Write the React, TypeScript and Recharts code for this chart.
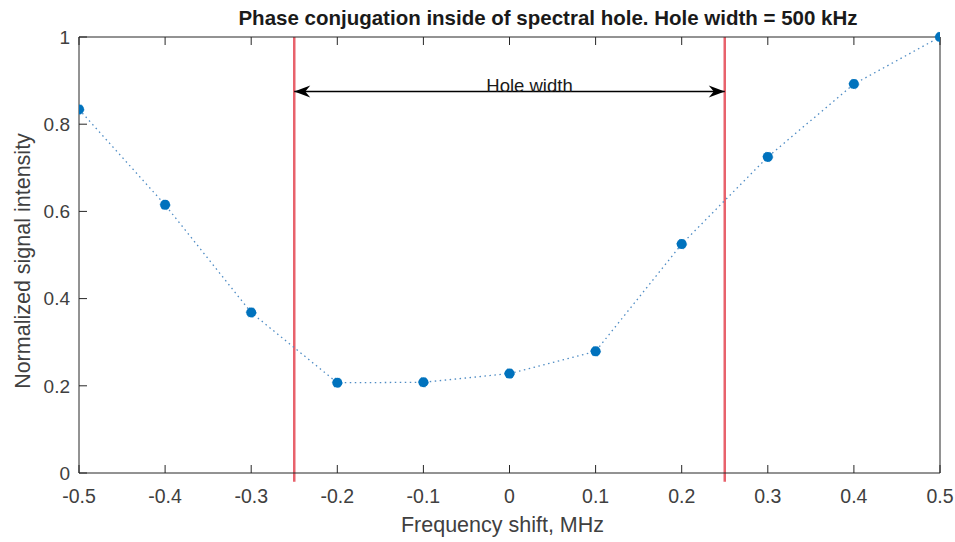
import { Line, LineChart, ReferenceLine, XAxis, YAxis } from 'recharts';

// Frequency shift (MHz) and the normalized signal measured at each step
const shiftMHz = [-0.5, -0.4, -0.3, -0.2, -0.1, 0, 0.1, 0.2, 0.3, 0.4, 0.5];
const intensity = [0.834, 0.615, 0.368, 0.207, 0.208, 0.228, 0.279, 0.525, 0.725, 0.892, 1.0];

const xTicks = [-0.5, -0.4, -0.3, -0.2, -0.1, 0, 0.1, 0.2, 0.3, 0.4, 0.5];
const yTicks = [0, 0.2, 0.4, 0.6, 0.8, 1];

// Edges of the spectral hole and the height of the width arrow
const holeEdges = [-0.25, 0.25];
const arrowLevel = 0.875;

const rows = shiftMHz.map((x, i) => ({ x, y: intensity[i] }));

const FONT = '"Liberation Sans", Arial, Helvetica, sans-serif';
const AXIS = '#262626';
const TEXT = '#404040';
const BLUE = '#0072bd';

const fmt = (v: number) => (v === 0 ? '0' : String(v));

const noTick = () => <g />;

function WidthArrow(props: any) {
    const { x1, y1, x2, y2 } = props;
    if (x1 == null || x2 == null) return null;
    const len = 16;
    const half = 6;
    const notch = 5;
    const head = (tip: number, dir: number) => {
        const back = tip + dir * len;
        return `M${tip},${y1} L${back},${y1 - half} L${back - dir * notch},${y1} L${back},${y1 + half} Z`;
    };
    return (
        <g>
            <line x1={x1} y1={y1} x2={x2} y2={y2} stroke="#000" strokeWidth={1.5} />
            <path d={head(x1, 1)} fill="#000" />
            <path d={head(x2, -1)} fill="#000" />
            <text
                x={(x1 + x2) / 2 + 20}
                y={y1}
                textAnchor="middle"
                fontFamily={FONT}
                fontSize={18.5}
                fill="#1a1a1a"
            >
                Hole width
            </text>
        </g>
    );
}

export default function App() {
    return (
        <div style={{ position: 'absolute', left: 0, top: 0, width: 955, height: 542, background: '#fff' }}>
            <div
                style={{
                    position: 'absolute',
                    left: 548,
                    top: 8,
                    transform: 'translateX(-50%)',
                    whiteSpace: 'nowrap',
                    fontFamily: FONT,
                    fontWeight: 700,
                    fontSize: 20.5,
                    lineHeight: '20px',
                    color: '#1a1a1a',
                }}
            >
                Phase conjugation inside of spectral hole. Hole width = 500 kHz
            </div>
            <LineChart width={955} height={542} data={rows} margin={{ top: 0, right: 0, bottom: 0, left: 0 }}>
                <XAxis
                    dataKey="x"
                    type="number"
                    domain={[-0.5, 0.5]}
                    ticks={xTicks}
                    tickFormatter={fmt}
                    height={69}
                    stroke={AXIS}
                    tickSize={-8}
                    tickMargin={24}
                    tick={{ fill: TEXT, fontSize: 19.5, fontFamily: FONT }}
                    interval={0}
                    allowDataOverflow
                    label={{
                        value: 'Frequency shift, MHz',
                        position: 'insideBottom',
                        offset: 10,
                        dx: -7,
                        fill: TEXT,
                        fontSize: 21.5,
                        fontFamily: FONT,
                    }}
                />
                <XAxis
                    xAxisId="top"
                    orientation="top"
                    dataKey="x"
                    type="number"
                    domain={[-0.5, 0.5]}
                    ticks={xTicks}
                    height={37}
                    stroke={AXIS}
                    tickSize={-8}
                    tick={noTick}
                />
                <YAxis
                    type="number"
                    domain={[0, 1]}
                    ticks={yTicks}
                    tickFormatter={fmt}
                    width={79}
                    stroke={AXIS}
                    tickSize={-8}
                    tickMargin={17}
                    tick={{ fill: TEXT, fontSize: 19, fontFamily: FONT }}
                    interval={0}
                    label={(p: any) => {
                        const vb = p.viewBox || {};
                        const cy = (vb.y ?? 37) + (vb.height ?? 436) / 2 + 6;
                        return (
                            <text
                                x={30}
                                y={cy}
                                transform={`rotate(-90, 30, ${cy})`}
                                textAnchor="middle"
                                fill={TEXT}
                                fontSize={21.5}
                                fontFamily={FONT}
                            >
                                Normalized signal intensity
                            </text>
                        );
                    }}
                />
                <YAxis
                    yAxisId="right"
                    orientation="right"
                    type="number"
                    domain={[0, 1]}
                    ticks={yTicks}
                    width={15}
                    stroke={AXIS}
                    tickSize={-8}
                    tick={noTick}
                />
                {holeEdges.map((edge) => (
                    <ReferenceLine
                        key={edge}
                        segment={[
                            { x: edge, y: -0.02 },
                            { x: edge, y: 1 },
                        ]}
                        ifOverflow="visible"
                        stroke="#e8626c"
                        strokeWidth={2.5}
                    />
                ))}
                <ReferenceLine
                    segment={[
                        { x: holeEdges[0], y: arrowLevel },
                        { x: holeEdges[1], y: arrowLevel },
                    ]}
                    ifOverflow="visible"
                    shape={WidthArrow}
                />
                <Line
                    dataKey="y"
                    type="linear"
                    stroke="#4f8cc4"
                    strokeWidth={1.3}
                    strokeDasharray="1.5 3.5"
                    dot={{ r: 5, fill: BLUE, stroke: BLUE, strokeWidth: 0.5 }}
                    activeDot={false}
                    isAnimationActive={false}
                />
            </LineChart>
        </div>
    );
}
